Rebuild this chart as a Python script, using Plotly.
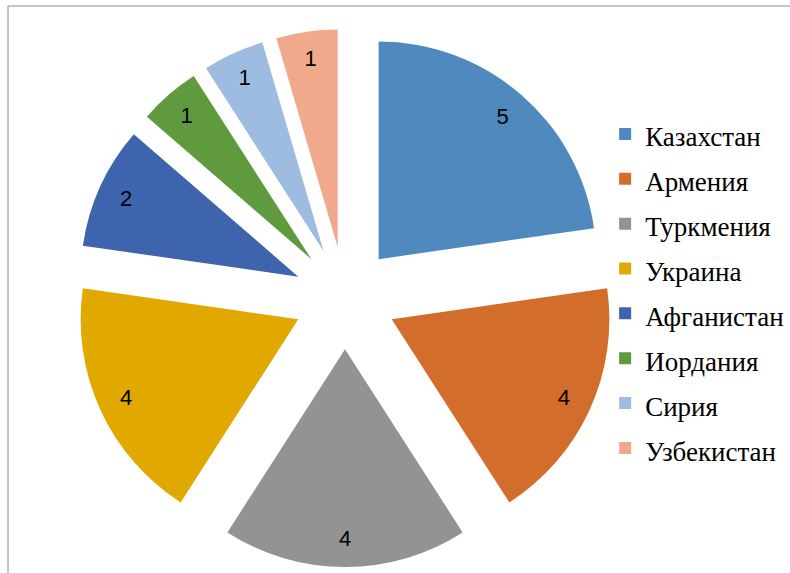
import plotly.graph_objects as go

countries = ["Казахстан", "Армения", "Туркмения", "Украина",
             "Афганистан", "Иордания", "Сирия", "Узбекистан"]
counts = [5, 4, 4, 4, 2, 1, 1, 1]
colors = ["#4F89BD", "#D36D2B", "#939393", "#E1A800",
          "#3E64AE", "#5F9A3E", "#9EBCE0", "#F0A98B"]

W, H = 790, 573
dom = dict(x=[(345 - 269) / W, (345 + 269) / W],
           y=[1 - 567 / H, 1 - 29 / H])

fig = go.Figure()
# the exploded pie itself
fig.add_trace(go.Pie(
    labels=[f'<span style="font-size:27px">{c}</span>' for c in countries],
    values=counts,
    sort=False,
    direction="clockwise",
    rotation=0,
    pull=0.236,
    marker=dict(colors=colors, line=dict(width=0)),
    textinfo="none",
    domain=dom,
    hoverinfo="label+value",
))
# transparent ring on top, only to put the value labels near the outer edge
fig.add_trace(go.Pie(
    labels=countries,
    values=counts,
    sort=False,
    direction="clockwise",
    rotation=0,
    pull=0.236,
    hole=0.74,
    marker=dict(colors=["rgba(0,0,0,0)"] * len(counts), line=dict(width=0)),
    textinfo="value",
    textposition="inside",
    insidetextorientation="horizontal",
    textfont=dict(family="Liberation Sans", size=22, color="black"),
    domain=dom,
    showlegend=False,
    hoverinfo="skip",
))

# thin frame around the chart area
fig.add_shape(type="rect", xref="paper", yref="paper",
              x0=8 / W, x1=1.02, y0=-0.02, y1=1 - 6 / H,
              line=dict(color="#8C8C8C", width=1), fillcolor="rgba(0,0,0,0)")

fig.update_layout(
    width=W, height=H,
    margin=dict(l=0, r=0, t=0, b=0),
    paper_bgcolor="white",
    plot_bgcolor="white",
    showlegend=True,
    legend=dict(
        x=0.766, xanchor="left",
        y=1 - 291 / H, yanchor="middle",
        font=dict(family="Liberation Serif", size=32.2, color="black"),
        itemwidth=30,
        bgcolor="rgba(0,0,0,0)",
    ),
)

fig.write_html("out.html", config={"displayModeBar": False},
               post_script="document.body.style.margin='0';")
